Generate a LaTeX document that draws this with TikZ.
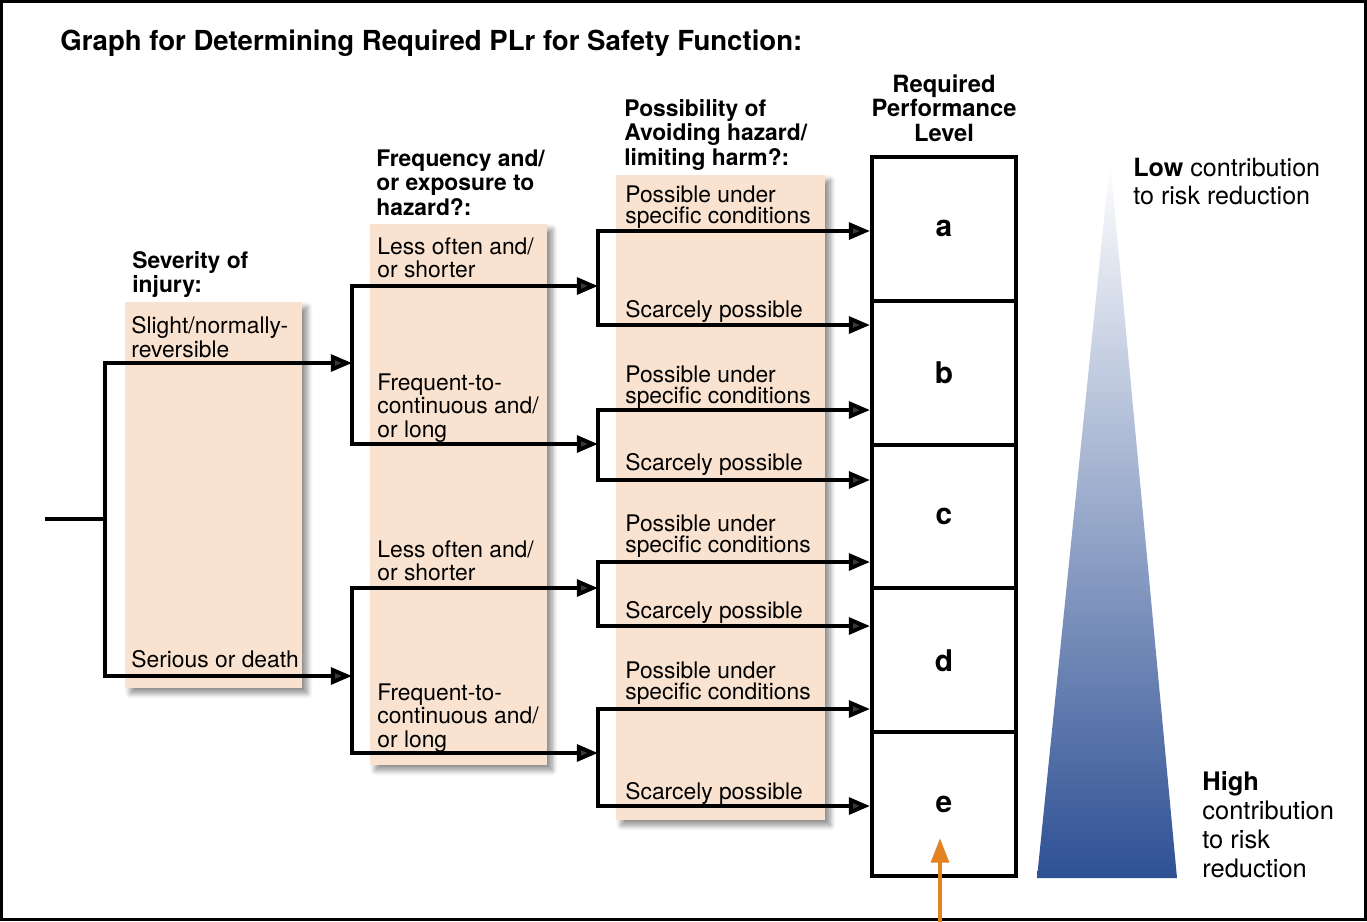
\documentclass[tikz,border=0pt]{standalone}
\usepackage{fontspec}
\setmainfont{TeX Gyre Heros}
\usetikzlibrary{arrows.meta,shadows.blur}
\definecolor{peach}{RGB}{249,227,208}
\definecolor{plblue}{RGB}{46,80,148}
\definecolor{plorange}{RGB}{226,130,34}

\begin{document}
\begin{tikzpicture}[x=0.02cm, y=-0.02cm,
	flow/.style={line width=2.2pt, -{Triangle[length=12pt, width=9.5pt]}},
	col/.style={fill=peach, blur shadow={shadow xshift=3pt, shadow yshift=-3pt, shadow blur radius=3pt, shadow blur steps=8, shadow opacity=45}},
	txt/.style={anchor=north west, inner sep=0pt, align=left, font=\fontsize{13}{13.6}\selectfont},
	tight/.style={txt, font={\fontsize{13}{12.3}\selectfont\lineskiplimit=-10pt}},
	head/.style={txt, font=\bfseries\fontsize{13}{14}\selectfont},
	lvl/.style={draw, line width=2.2pt, minimum width=2.88cm, minimum height=2.876cm, font=\bfseries\fontsize{17}{17}\selectfont}]
	\useasboundingbox (0,0) rectangle (1367,921);
	\draw[line width=1.7pt] (1.5,1.5) rectangle (1365.5,919.5);
	\node[txt, font=\bfseries\fontsize{15.7}{18}\selectfont] (title) at (60,30) {Graph for Determining Required PLr for Safety Function:};

	% shaded columns
	\path[col] (125,302) rectangle (302,688);
	\path[col] (370,224) rectangle (547,765);
	\path[col] (616,175) rectangle (825,820);

	% column heads
	\node[head] (hsev) at (132,251) {Severity of\\injury:};
	\node[head] (hfrq) at (376,149) {Frequency and/\\or exposure to\\hazard?:};
	\node[head] (hpos) at (624,99) {Possibility of\\Avoiding hazard/\\limiting harm?:};
	\node[head, anchor=north, align=center, font=\bfseries\fontsize{13.5}{14.2}\selectfont] (hpl) at (944,74) {Required\\Performance\\Level};

	% answers
	\node[txt] (sev1) at (131,316) {Slight/normally-\\reversible};
	\node[txt] (sev2) at (131,650) {Serious or death};
	\foreach \y [count=\k] in {237,540}
		\node[txt] (frqa\k) at (377,\y) {Less often and/\\or shorter};
	\foreach \y [count=\k] in {373,683}
		\node[txt] (frqb\k) at (377,\y) {Frequent-to-\\continuous and/\\or long};
	\foreach \y [count=\k] in {185,365,514,661}
		\node[tight] (posa\k) at (625,\y) {Possible under\\specific conditions};
	\foreach \y [count=\k] in {300,453,601,782}
		\node[txt] (posb\k) at (625,\y) {Scarcely possible};

	% performance levels
	\foreach \l [count=\k] in {a,b,c,d,e}
		\node[lvl] (pl\l) at (944,{157+143.8*(\k-0.5)}) {\l};

	% branch points
	\coordinate (s0) at (45,519);
	\coordinate (j0) at (105,519);
	\coordinate (f1) at (352,363);
	\coordinate (f2) at (352,676);
	\foreach \y [count=\k] in {286,444,588,753}
		\coordinate (p\k) at (598,\y);
	\foreach \y [count=\k] in {231,325,410,480,562,626,709,806}
		\coordinate (t\k) at (870,\y);

	\draw[line width=2.2pt] (s0) -- (j0);
	\draw[flow] (j0) |- (f1);
	\draw[flow] (j0) |- (f2);
	\draw[flow] (f1) |- (p1);
	\draw[flow] (f1) |- (p2);
	\draw[flow] (f2) |- (p3);
	\draw[flow] (f2) |- (p4);
	\foreach \k [evaluate=\k as \u using {int(2*\k-1)}, evaluate=\k as \d using {int(2*\k)}] in {1,...,4}{
		\draw[flow] (p\k) |- (t\u);
		\draw[flow] (p\k) |- (t\d);}

	% risk reduction wedge
	\shade[top color=white, bottom color=plblue] (1110,160) -- (1177,878) -- (1037,878) -- cycle;
	\node[txt, font=\fontsize{14.3}{15.9}\selectfont] (low) at (1133,158) {\textbf{Low} contribution\\to risk reduction};
	\node[txt, font=\fontsize{14.5}{16.5}\selectfont] (high) at (1202,771) {\textbf{High}\\contribution\\to risk\\reduction};

	\coordinate (src) at (940,925);
	\coordinate (pin) at (940,838);
	\draw[plorange, line width=2.4pt, -{Triangle[length=14pt, width=10pt]}] (src) -- (pin);
\end{tikzpicture}
\end{document}
